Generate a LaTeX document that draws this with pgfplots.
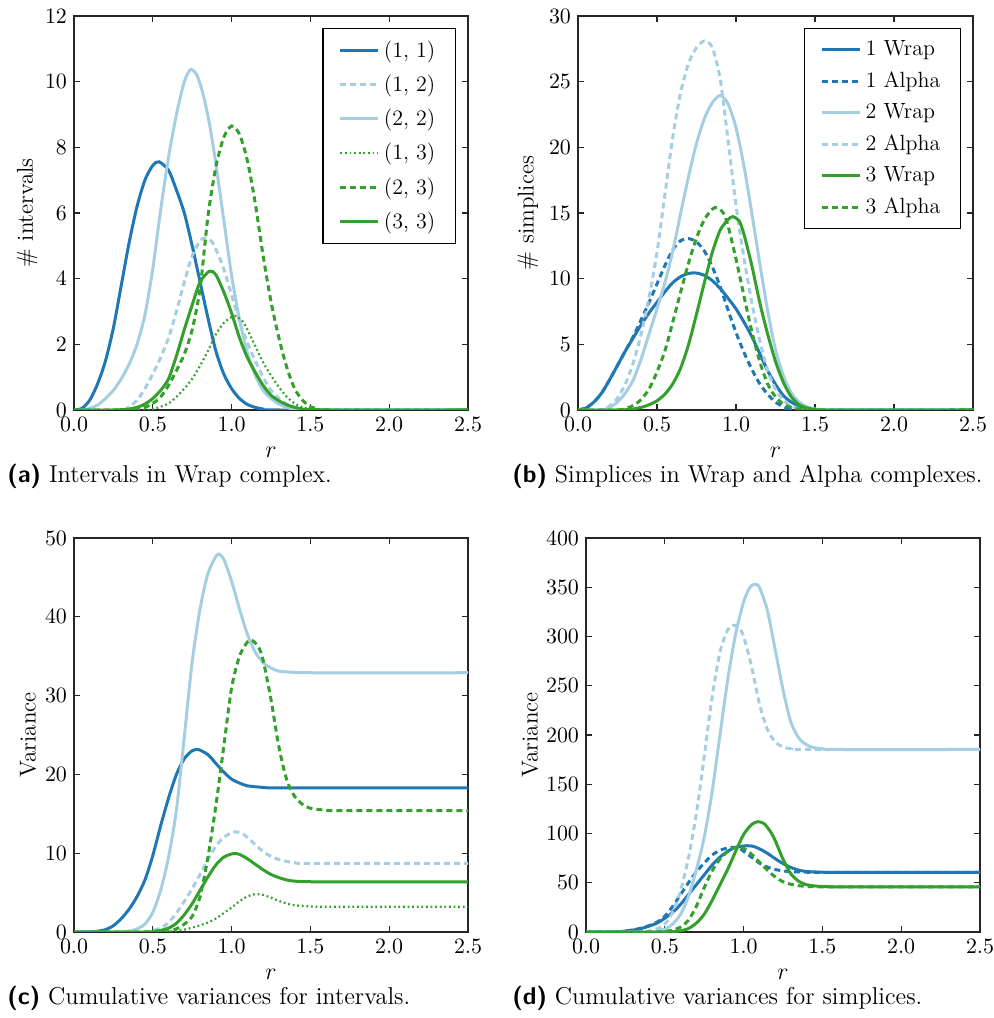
\documentclass[border=0pt]{standalone}
\usepackage{pgfplots}
\pgfplotsset{compat=1.18}

\definecolor{dblue}{HTML}{1F78B4}
\definecolor{lblue}{HTML}{A6CEE3}
\definecolor{dgreen}{HTML}{33A02C}

\pgfplotsset{
  panel/.style={
    scale only axis,
    width=197pt, height=197pt,
    anchor=south west,
    xmin=0, xmax=2.5,
    ymin=0,
    xtick={0,0.5,...,2.5},
    xticklabel style={/pgf/number format/.cd, fixed, fixed zerofill, precision=1},
    tick label style={font=\fontsize{11}{13}\selectfont},
    label style={font=\fontsize{11.5}{13}\selectfont},
    tick align=inside,
    major tick length=3pt,
    minor tick num=0,
    axis line style={black!85, line width=0.7pt},
    every tick/.style={black!85, line width=0.6pt},
    xlabel={$r$},
    xlabel style={at={(axis description cs:0.5,-0.108)}, anchor=center},
    legend cell align=left,
    legend style={
      font=\fontsize{11}{13}\selectfont,
      at={(1,1)}, anchor=north east, xshift=-6pt, yshift=-6pt,
      draw=black, line width=0.6pt,
      inner xsep=8pt, inner ysep=4pt,
      row sep=3.2pt,
      nodes={inner sep=2pt},
      /tikz/every even column/.append style={column sep=10pt},
    },
    legend image code/.code={\draw[##1] (0pt,0pt) -- (19pt,0pt);},
    every axis plot/.append style={smooth, tension=0.45},
  },
  solidl/.style={line width=1.5pt},
  dashl/.style={line width=1.5pt, dash pattern=on 3pt off 2pt},
  dotl/.style={line width=1.1pt, dash pattern=on 0.9pt off 1.4pt},
}

\begin{document}
\begin{tikzpicture}
\path[use as bounding box] (0pt,0pt) rectangle (496.5pt,509pt);

% ---------------- (a) intervals in the Wrap complex ----------------
\begin{axis}[panel, at={(37pt,304pt)}, ymax=12, ytick={0,2,...,12},
  ylabel={\# intervals},
  ylabel style={at={(axis description cs:-0.119,0.5)}, anchor=center},
  legend style={row sep=3.4pt}]
\addplot[dblue, solidl] coordinates {
(0,0) (0.05,0.05) (0.1,0.3) (0.15,0.8) (0.2,1.5) (0.25,2.5) (0.3,3.8)
(0.35,5.1) (0.4,6.2) (0.45,7.0) (0.5,7.45) (0.54,7.56) (0.6,7.3) (0.65,6.7)
(0.7,6.0) (0.75,5.0) (0.8,3.9) (0.85,2.8) (0.9,1.8) (0.95,1.1) (1.0,0.65)
(1.05,0.35) (1.1,0.17) (1.15,0.08) (1.2,0.03) (1.3,0) (2.5,0)};
\addlegendentry{(1, 1)}
\addplot[lblue, dashl] coordinates {
(0,0) (0.3,0) (0.35,0.1) (0.4,0.3) (0.45,0.65) (0.5,1.1) (0.55,1.6) (0.6,2.2)
(0.65,3.0) (0.7,3.9) (0.75,4.7) (0.8,5.15) (0.83,5.24) (0.87,5.15) (0.9,4.9)
(0.95,4.3) (1.0,3.5) (1.05,2.7) (1.1,2.05) (1.15,1.5) (1.2,1.0) (1.25,0.6)
(1.3,0.35) (1.35,0.18) (1.4,0.08) (1.45,0.02) (1.5,0) (2.5,0)};
\addlegendentry{(1, 2)}
\addplot[lblue, solidl] coordinates {
(0,0) (0.05,0) (0.1,0.05) (0.15,0.15) (0.2,0.35) (0.25,0.6) (0.3,0.95)
(0.35,1.4) (0.4,2.0) (0.45,2.9) (0.5,4.3) (0.55,6.1) (0.6,7.7) (0.65,9.0)
(0.7,10.0) (0.74,10.37) (0.78,10.2) (0.82,9.6) (0.86,8.7) (0.9,7.5) (0.95,5.8)
(1.0,4.1) (1.05,2.75) (1.1,1.75) (1.15,1.05) (1.2,0.6) (1.25,0.35)
(1.3,0.18) (1.35,0.08) (1.4,0.03) (1.5,0) (2.5,0)};
\addlegendentry{(2, 2)}
\addplot[dgreen, dotl] coordinates {
(0,0) (0.45,0) (0.5,0.03) (0.55,0.1) (0.6,0.2) (0.65,0.4) (0.7,0.65)
(0.75,0.95) (0.8,1.35) (0.85,1.8) (0.9,2.3) (0.95,2.65) (1.0,2.83) (1.03,2.86)
(1.07,2.7) (1.1,2.45) (1.15,1.95) (1.2,1.45) (1.25,1.05) (1.3,0.7) (1.35,0.4)
(1.4,0.2) (1.45,0.08) (1.5,0.02) (1.55,0) (2.5,0)};
\addlegendentry{(1, 3)}
\addplot[dgreen, dashl] coordinates {
(0,0) (0.35,0) (0.4,0.03) (0.45,0.08) (0.5,0.2) (0.55,0.4) (0.6,0.75)
(0.65,1.2) (0.7,1.7) (0.75,2.45) (0.8,3.7) (0.85,5.9) (0.9,7.4) (0.95,8.3)
(1.0,8.65) (1.05,8.4) (1.1,7.6) (1.15,6.3) (1.2,4.7) (1.25,3.3) (1.3,2.2)
(1.35,1.3) (1.4,0.65) (1.45,0.3) (1.5,0.1) (1.55,0.03) (1.6,0) (2.5,0)};
\addlegendentry{(2, 3)}
\addplot[dgreen, solidl] coordinates {
(0,0) (0.25,0) (0.3,0.01) (0.35,0.03) (0.4,0.08) (0.45,0.18) (0.5,0.35)
(0.55,0.6) (0.6,0.95) (0.65,1.65) (0.7,2.45) (0.75,3.2) (0.8,3.9) (0.86,4.23)
(0.9,4.12) (0.95,3.6) (1.0,2.95) (1.05,2.2) (1.1,1.6) (1.15,1.15) (1.2,0.75)
(1.25,0.45) (1.3,0.28) (1.35,0.16) (1.4,0.08) (1.45,0.03) (1.5,0.01) (1.6,0) (2.5,0)};
\addlegendentry{(3, 3)}
\end{axis}

% ---------------- (b) simplices in Wrap and Alpha complexes ----------------
\begin{axis}[panel, at={(289pt,304pt)}, width=197.5pt, ymax=30, ytick={0,5,...,30},
  ylabel={\# simplices},
  ylabel style={at={(axis description cs:-0.127,0.5)}, anchor=center},
  legend style={row sep=2.6pt}]
\addplot[dblue, solidl] coordinates {
(0,0) (0.05,0.15) (0.1,0.6) (0.15,1.3) (0.2,2.3) (0.25,3.4) (0.3,4.5)
(0.35,5.5) (0.4,6.5) (0.45,7.4) (0.5,8.2) (0.55,9.0) (0.6,9.7) (0.65,10.15)
(0.7,10.4) (0.75,10.43) (0.8,10.25) (0.85,9.85) (0.9,9.25) (0.95,8.5)
(1.0,7.7) (1.05,6.7) (1.1,5.6) (1.15,4.3) (1.2,3.0) (1.25,1.95) (1.3,1.1)
(1.35,0.6) (1.4,0.3) (1.45,0.12) (1.5,0.04) (1.55,0) (2.5,0)};
\addlegendentry{1 Wrap}
\addplot[dblue, dashl] coordinates {
(0,0) (0.05,0.15) (0.1,0.6) (0.15,1.3) (0.2,2.3) (0.25,3.4) (0.3,4.5)
(0.35,5.6) (0.4,6.9) (0.45,8.2) (0.5,9.6) (0.55,11.0) (0.6,12.2) (0.65,12.9)
(0.7,13.05) (0.75,12.8) (0.8,12.1) (0.85,10.9) (0.9,9.4) (0.95,7.6)
(1.0,5.9) (1.05,4.4) (1.1,3.1) (1.15,2.0) (1.2,1.2) (1.25,0.6) (1.3,0.25)
(1.35,0.07) (1.4,0) (2.5,0)};
\addlegendentry{1 Alpha}
\addplot[lblue, solidl] coordinates {
(0,0) (0.15,0) (0.2,0.2) (0.25,0.6) (0.3,1.3) (0.35,2.3) (0.4,3.9)
(0.45,5.8) (0.5,7.7) (0.55,9.7) (0.6,12.1) (0.65,15.0) (0.7,17.8) (0.75,20.3)
(0.8,22.2) (0.85,23.4) (0.9,23.95) (0.95,23.3) (1.0,21.5) (1.05,18.6)
(1.1,15.0) (1.15,11.2) (1.2,7.6) (1.25,4.6) (1.3,2.6) (1.35,1.3) (1.4,0.6)
(1.45,0.25) (1.5,0.08) (1.55,0.02) (1.6,0) (2.5,0)};
\addlegendentry{2 Wrap}
\addplot[lblue, dashl] coordinates {
(0,0) (0.15,0) (0.2,0.3) (0.25,0.9) (0.3,2.0) (0.35,3.6) (0.4,5.8)
(0.45,8.6) (0.5,12.0) (0.55,16.4) (0.6,20.8) (0.65,24.2) (0.7,26.4)
(0.75,27.6) (0.8,28.1) (0.85,27.6) (0.9,25.2) (0.95,20.5) (1.0,15.6)
(1.05,11.6) (1.1,8.2) (1.15,5.3) (1.2,3.0) (1.25,1.6) (1.3,0.75) (1.35,0.3)
(1.4,0.1) (1.45,0.03) (1.5,0) (2.5,0)};
\addlegendentry{2 Alpha}
\addplot[dgreen, solidl] coordinates {
(0,0) (0.25,0) (0.3,0.02) (0.35,0.08) (0.4,0.2) (0.45,0.4) (0.5,0.7)
(0.55,1.2) (0.6,2.0) (0.65,3.2) (0.7,5.0) (0.75,7.3) (0.8,9.7) (0.85,12.0)
(0.9,13.7) (0.95,14.5) (0.98,14.72) (1.02,14.4) (1.05,13.4) (1.1,11.0)
(1.15,8.2) (1.2,5.8) (1.25,3.7) (1.3,2.1) (1.35,1.0) (1.4,0.4) (1.45,0.15)
(1.5,0.04) (1.55,0) (2.5,0)};
\addlegendentry{3 Wrap}
\addplot[dgreen, dashl] coordinates {
(0,0) (0.25,0) (0.3,0.1) (0.35,0.35) (0.4,0.8) (0.45,1.6) (0.5,2.9)
(0.55,4.5) (0.6,6.7) (0.65,9.0) (0.7,11.2) (0.75,13.1) (0.8,14.5) (0.85,15.3)
(0.88,15.4) (0.92,15.0) (0.95,14.0) (1.0,11.5) (1.05,8.7) (1.1,6.0)
(1.15,3.7) (1.2,2.0) (1.25,1.0) (1.3,0.45) (1.35,0.2) (1.4,0.07) (1.45,0.02)
(1.5,0) (2.5,0)};
\addlegendentry{3 Alpha}
\end{axis}

% ---------------- (c) cumulative variances for intervals ----------------
\begin{axis}[panel, at={(37pt,43pt)}, ymax=50, ytick={0,10,...,50},
  ylabel={Variance},
  ylabel style={at={(axis description cs:-0.117,0.5)}, anchor=center}]
\addplot[dblue, solidl] coordinates {
(0,0) (0.1,0.02) (0.15,0.1) (0.2,0.3) (0.25,0.8) (0.3,1.7) (0.35,2.9)
(0.4,4.5) (0.45,6.6) (0.5,9.7) (0.55,13.5) (0.6,17.0) (0.65,20.0) (0.7,22.0)
(0.75,23.0) (0.79,23.15) (0.85,22.5) (0.9,21.4) (0.95,20.3) (1.0,19.4)
(1.05,18.9) (1.1,18.55) (1.2,18.35) (1.3,18.3) (2.5,18.3)};
\addplot[lblue, dashl] coordinates {
(0,0) (0.45,0) (0.5,0.2) (0.55,0.5) (0.6,1.2) (0.65,2.4) (0.7,3.9)
(0.75,5.5) (0.8,7.3) (0.85,9.2) (0.9,10.9) (0.95,12.0) (1.0,12.6) (1.03,12.7)
(1.07,12.5) (1.1,12.0) (1.15,11.1) (1.2,10.2) (1.25,9.6) (1.3,9.2) (1.35,8.95)
(1.4,8.8) (1.5,8.7) (2.5,8.7)};
\addplot[lblue, solidl] coordinates {
(0,0) (0.3,0) (0.35,0.1) (0.4,0.4) (0.45,1.0) (0.5,2.5) (0.55,5.3) (0.6,9.5)
(0.65,15.5) (0.7,24.8) (0.75,34.3) (0.8,41.0) (0.85,45.5) (0.91,47.9)
(0.95,47.3) (1.0,44.5) (1.05,41.0) (1.1,37.8) (1.15,35.5) (1.2,34.2)
(1.25,33.5) (1.3,33.1) (1.4,32.95) (1.5,32.9) (2.5,32.9)};
\addplot[dgreen, dotl] coordinates {
(0,0) (0.55,0) (0.6,0.05) (0.65,0.15) (0.7,0.3) (0.75,0.55) (0.8,0.85)
(0.85,1.2) (0.9,1.7) (0.95,2.4) (1.0,3.1) (1.05,3.9) (1.1,4.5) (1.15,4.8)
(1.2,4.7) (1.25,4.35) (1.3,3.95) (1.35,3.6) (1.4,3.4) (1.45,3.3) (1.5,3.25)
(1.6,3.2) (2.5,3.2)};
\addplot[dgreen, dashl] coordinates {
(0,0) (0.55,0) (0.6,0.1) (0.65,0.4) (0.7,1.0) (0.75,2.0) (0.8,4.5)
(0.85,9.5) (0.9,16.0) (0.95,23.5) (1.0,31.0) (1.05,35.0) (1.1,36.8)
(1.13,37.0) (1.17,36.2) (1.2,34.5) (1.25,29.5) (1.3,23.5) (1.35,19.3)
(1.4,17.2) (1.45,16.2) (1.5,15.7) (1.6,15.45) (1.7,15.4) (2.5,15.4)};
\addplot[dgreen, solidl] coordinates {
(0,0) (0.45,0) (0.5,0.05) (0.55,0.2) (0.6,0.5) (0.65,1.1) (0.7,2.2)
(0.75,3.6) (0.8,5.3) (0.85,7.0) (0.9,8.5) (0.95,9.5) (1.01,9.95) (1.05,9.85)
(1.1,9.3) (1.15,8.6) (1.2,7.9) (1.25,7.3) (1.3,6.9) (1.35,6.6) (1.4,6.45)
(1.5,6.38) (1.6,6.36) (2.5,6.36)};
\end{axis}

% ---------------- (d) cumulative variances for simplices ----------------
\begin{axis}[panel, at={(293pt,43pt)}, ymax=400, ytick={0,50,...,400},
  ylabel={Variance},
  ylabel style={at={(axis description cs:-0.142,0.5)}, anchor=center}]
\addplot[dblue, solidl] coordinates {
(0,0) (0.2,0.3) (0.25,1) (0.3,2) (0.35,3.5) (0.4,6) (0.45,9) (0.5,14)
(0.55,20) (0.6,28) (0.65,38) (0.7,48) (0.75,58) (0.8,68) (0.85,76) (0.9,82)
(0.95,86) (1.02,87.6) (1.06,87) (1.1,84.5) (1.15,80) (1.2,74.5) (1.25,69.5)
(1.3,65.5) (1.35,62.8) (1.4,61.4) (1.5,60.7) (1.6,60.5) (2.5,60.5)};
\addplot[dblue, dashl] coordinates {
(0,0) (0.2,0.3) (0.25,1) (0.3,2.2) (0.35,4) (0.4,6.5) (0.45,10) (0.5,16)
(0.55,26) (0.6,38) (0.65,50) (0.7,61) (0.75,70) (0.8,78) (0.85,83)
(0.92,86) (0.97,85) (1.0,82) (1.05,76) (1.1,70) (1.15,66) (1.2,63.5)
(1.25,62) (1.3,61.3) (1.4,60.7) (1.5,60.5) (2.5,60.5)};
\addplot[lblue, solidl] coordinates {
(0,0) (0.4,0) (0.45,1) (0.5,3) (0.55,8) (0.6,18) (0.65,36) (0.7,63)
(0.75,96) (0.8,142) (0.85,200) (0.9,257) (0.95,303) (1.0,335) (1.04,350)
(1.07,353) (1.1,350) (1.15,327) (1.2,287) (1.25,246) (1.3,213) (1.35,197)
(1.4,190) (1.45,187) (1.5,186) (1.6,185.3) (2.5,185.3)};
\addplot[lblue, dashl] coordinates {
(0,0) (0.35,0) (0.4,1) (0.45,3) (0.5,8) (0.55,20) (0.6,42) (0.65,75)
(0.7,120) (0.75,178) (0.8,238) (0.85,284) (0.9,307) (0.94,311.5) (0.97,309)
(1.0,300) (1.05,270) (1.1,232) (1.15,206) (1.2,193) (1.25,188) (1.3,186)
(1.4,185.3) (2.5,185.3)};
\addplot[dgreen, solidl] coordinates {
(0,0) (0.5,0) (0.55,0.3) (0.6,1.2) (0.65,3.5) (0.7,9) (0.75,18) (0.8,32)
(0.85,48) (0.9,64) (0.95,82) (1.0,99) (1.05,109) (1.09,112) (1.13,110)
(1.17,102) (1.2,93) (1.25,74) (1.3,59) (1.35,51.5) (1.4,48) (1.45,46.8)
(1.5,46.2) (1.6,45.9) (2.5,45.8)};
\addplot[dgreen, dashl] coordinates {
(0,0) (0.45,0) (0.5,0.5) (0.55,2) (0.6,5) (0.65,12) (0.7,26) (0.75,45)
(0.8,62) (0.85,74) (0.9,82) (0.95,86) (1.0,85) (1.05,79) (1.1,71) (1.15,63)
(1.2,56) (1.25,51) (1.3,48.5) (1.35,47) (1.4,46.3) (1.5,45.9) (2.5,45.8)};
\end{axis}

% ---------------- sub-captions ----------------
\begin{scope}[every node/.style={anchor=base west, inner sep=0pt,
    font=\fontsize{12.2}{14}\selectfont}]
\node at (3.5pt,267.5pt) {\textsf{\textbf{(a)}} Intervals in Wrap complex.};
\node at (256pt,267.5pt) {\textsf{\textbf{(b)}} Simplices in Wrap and Alpha complexes.};
\node at (3.5pt,6.5pt) {\textsf{\textbf{(c)}} Cumulative variances for intervals.};
\node at (256pt,6.5pt) {\textsf{\textbf{(d)}} Cumulative variances for simplices.};
\end{scope}
\end{tikzpicture}
\end{document}
